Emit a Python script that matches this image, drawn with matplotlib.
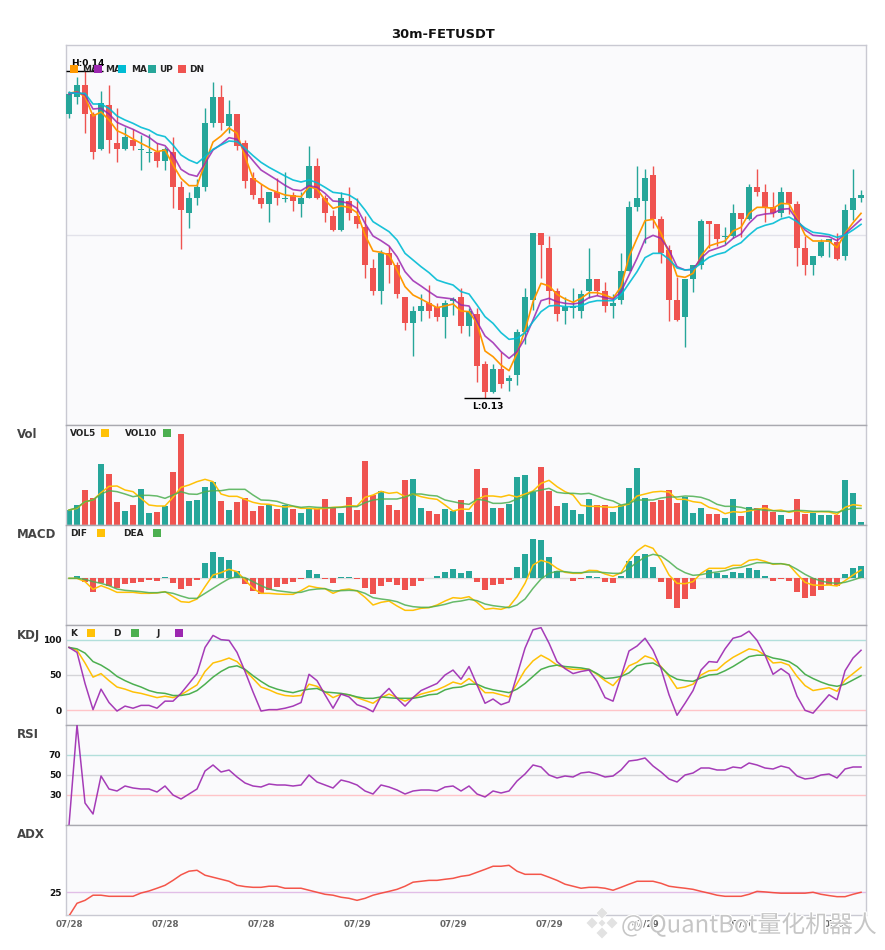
import numpy as np
import matplotlib
matplotlib.use("Agg")
import matplotlib.pyplot as plt
from matplotlib.patches import Rectangle, Polygon
import matplotlib.patheffects as pe

# 30m candles, prices in 1e-5 USDT
opens = [13852,13904,13939,13852,13747,13879,13765,13747,13774,13745,
         13736,13738,13711,13738,13633,13555,13600,13633,13825,13903,
         13816,13852,13765,13660,13600,13582,13618,13597,13609,13582,
         13600,13696,13600,13546,13504,13591,13546,13513,13390,13321,
         13435,13399,13303,13225,13261,13285,13273,13243,13291,13303,
         13216,13252,13102,13018,13087,13051,13069,13198,13294,13495,
         13450,13321,13261,13270,13261,13321,13357,13321,13276,13294,
         13381,13573,13591,13669,13537,13444,13294,13243,13357,13399,
         13531,13522,13484,13486,13555,13537,13633,13618,13573,13555,
         13618,13582,13450,13399,13426,13468,13468,13426,13564,13600]
closes = [13912,13939,13852,13739,13885,13774,13747,13783,13756,13747,
          13738,13711,13747,13633,13564,13600,13633,13825,13903,13825,
          13852,13756,13651,13609,13582,13618,13600,13600,13591,13600,
          13696,13600,13555,13504,13600,13555,13522,13399,13321,13435,
          13399,13312,13225,13261,13276,13261,13243,13285,13297,13216,
          13261,13096,13018,13087,13042,13060,13198,13303,13495,13459,
          13321,13252,13273,13276,13312,13357,13321,13276,13285,13381,
          13573,13600,13660,13537,13435,13294,13234,13357,13399,13531,
          13522,13477,13486,13555,13537,13633,13618,13573,13555,13618,
          13582,13450,13399,13426,13468,13477,13417,13564,13600,13609]
highs = [13922,13964,13981,13859,13921,13939,13870,13813,13807,13789,
         13792,13764,13754,13783,13651,13618,13657,13870,13948,13939,
         13894,13852,13774,13678,13642,13618,13660,13678,13618,13618,
         13756,13720,13609,13564,13618,13633,13600,13546,13417,13444,
         13456,13408,13303,13276,13312,13339,13285,13294,13303,13330,
         13270,13270,13111,13102,13138,13069,13207,13330,13495,13495,
         13486,13330,13303,13330,13324,13450,13357,13348,13312,13435,
         13591,13696,13687,13696,13546,13459,13363,13357,13399,13537,
         13531,13522,13513,13582,13555,13642,13687,13642,13618,13633,
         13618,13591,13486,13426,13477,13477,13495,13582,13687,13624]
lows = [13840,13882,13795,13717,13744,13736,13708,13744,13744,13684,
        13708,13693,13684,13570,13447,13510,13579,13621,13813,13804,
        13795,13744,13630,13597,13570,13528,13579,13588,13561,13543,
        13600,13597,13528,13501,13501,13534,13510,13360,13309,13282,
        13345,13300,13204,13126,13231,13240,13231,13180,13249,13195,
        13186,13048,13000,13015,13030,13021,13039,13162,13264,13360,
        13282,13231,13222,13240,13240,13300,13309,13258,13240,13282,
        13381,13561,13465,13510,13405,13231,13231,13153,13318,13387,
        13450,13456,13462,13480,13483,13534,13606,13528,13543,13543,
        13552,13396,13369,13369,13423,13423,13414,13414,13534,13588]

ma_fast = [13914,13919,13904,13846,13858,13834,13802,13791,13777,13764,
           13752,13739,13744,13699,13659,13637,13637,13704,13768,13786,
           13810,13794,13724,13659,13642,13627,13618,13609,13606,13604,
           13634,13627,13594,13569,13576,13572,13556,13489,13441,13437,
           13429,13384,13334,13309,13297,13284,13271,13276,13282,13261,
           13259,13224,13141,13124,13099,13082,13134,13204,13289,13344,
           13336,13311,13297,13287,13299,13316,13316,13309,13299,13334,
           13424,13479,13532,13536,13494,13434,13366,13362,13374,13426,
           13456,13464,13471,13501,13512,13554,13572,13572,13569,13584,
           13582,13539,13489,13471,13471,13471,13451,13494,13526,13554]
ma_mid = [13912,13918,13909,13867,13869,13852,13827,13816,13806,13794,
          13782,13764,13757,13729,13686,13671,13665,13704,13744,13761,
          13781,13776,13741,13712,13684,13669,13654,13638,13625,13622,
          13637,13632,13614,13591,13589,13584,13569,13524,13486,13472,
          13456,13424,13379,13352,13336,13319,13303,13300,13297,13279,
          13276,13229,13186,13166,13139,13119,13139,13179,13234,13292,
          13299,13289,13284,13282,13286,13301,13307,13301,13296,13319,
          13369,13419,13476,13488,13479,13444,13394,13384,13386,13419,
          13441,13449,13458,13479,13492,13524,13547,13552,13554,13566,
          13568,13534,13504,13488,13486,13484,13472,13492,13514,13536]
ma_slow = [13916,13914,13914,13882,13882,13869,13846,13834,13824,13812,
           13804,13790,13784,13759,13729,13714,13704,13724,13746,13759,
           13771,13769,13749,13727,13707,13692,13679,13666,13654,13648,
           13654,13646,13632,13617,13614,13609,13594,13564,13529,13514,
           13499,13474,13434,13414,13394,13376,13354,13346,13339,13319,
           13312,13279,13244,13224,13196,13176,13179,13196,13229,13259,
           13276,13278,13274,13274,13276,13287,13292,13292,13292,13309,
           13344,13379,13421,13434,13434,13416,13390,13384,13386,13404,
           13422,13431,13437,13454,13466,13489,13509,13518,13524,13537,
           13543,13529,13510,13497,13494,13490,13482,13489,13504,13521]

# volume, arbitrary units
volume = [45,60,105,81,183,153,69,42,60,108,36,39,57,159,273,72,75,114,129,72,
          45,69,81,42,57,60,48,60,48,36,48,48,78,54,36,84,45,192,90,102,
          60,45,135,138,51,42,33,48,42,75,39,168,111,51,51,63,144,150,99,174,
          102,57,66,45,33,78,60,60,39,60,111,171,81,69,75,105,66,84,36,51,
          33,33,21,78,27,54,51,60,39,30,18,78,33,36,30,30,30,135,96,9]
vol5 = [45,50,70,75,97,116,117,105,100,80,60,57,57,83,113,120,130,137,130,93,
        86,86,77,68,63,62,57,54,56,50,50,48,50,53,54,58,57,83,90,101,
        95,98,85,93,85,80,77,60,42,48,47,77,87,87,84,90,84,93,102,125,
        134,115,100,90,59,56,56,54,53,57,63,87,93,99,101,99,77,77,70,67,
        53,47,34,40,38,42,47,51,43,45,38,43,38,39,40,39,32,53,61,58]
vol10 = [45,52,70,75,93,103,100,93,85,89,89,87,80,90,100,93,92,100,103,103,
         107,107,107,90,75,74,71,63,57,53,55,53,52,52,53,55,55,67,75,78,
         78,78,84,93,93,89,87,75,70,65,62,77,74,65,65,68,78,87,100,105,
         110,98,95,95,93,95,87,78,72,60,65,75,75,75,81,84,84,87,86,83,
         75,62,56,56,53,47,47,44,43,41,41,44,43,41,41,41,38,45,50,50]

macd_hist = [0,7,-12,-41,-15,-23,-29,-17,-14,-11,-5,-8,4,-14,-32,-23,-5,46,79,64,
             55,22,-17,-38,-47,-35,-26,-17,-11,-2,25,13,-2,-14,4,4,-2,-29,-47,-23,
             -11,-20,-35,-23,-8,0,7,19,28,16,22,-11,-35,-20,-17,-5,34,73,118,115,
             64,22,0,-8,-2,7,4,-11,-14,7,52,67,73,34,-11,-62,-89,-62,-32,1,
             25,16,10,19,16,31,25,7,-8,-2,-8,-41,-59,-53,-35,-20,-23,13,31,37]
dif = [0,0,-10,-33,-22,-31,-42,-42,-42,-45,-45,-44,-40,-55,-70,-72,-62,-25,10,17,
       27,20,-5,-30,-45,-45,-47,-48,-48,-37,-23,-28,-31,-45,-35,-32,-38,-57,-80,-72,
       -68,-83,-96,-96,-90,-88,-80,-68,-58,-60,-55,-72,-93,-90,-93,-85,-55,-15,40,54,
       47,30,18,15,15,24,23,13,6,17,55,82,99,90,55,10,-15,-16,-10,15,
       30,30,30,39,39,54,57,51,42,44,40,13,-12,-20,-21,-20,-23,-7,10,25]
dea = [0,0,-3,-10,-15,-22,-32,-36,-38,-40,-43,-43,-41,-45,-53,-60,-60,-45,-30,-15,
       -1,5,2,-10,-22,-32,-37,-40,-43,-42,-35,-32,-31,-38,-37,-36,-37,-45,-58,-62,
       -65,-70,-80,-85,-87,-87,-83,-78,-71,-68,-63,-67,-77,-82,-85,-88,-80,-62,-30,-2,
       15,21,20,17,17,19,19,17,15,15,30,48,64,72,67,50,30,17,9,11,
       16,19,23,30,33,40,47,47,44,44,40,27,12,0,-8,-13,-15,-12,-5,3]

kdj_k = [89,85,67,47,52,42,33,30,26,24,21,18,20,18,22,29,36,55,67,70,
         74,69,57,45,33,29,24,21,20,21,37,34,26,18,23,22,18,14,10,18,
         23,18,13,18,23,26,29,34,40,37,45,36,25,25,22,19,38,57,70,78,
         72,64,60,58,58,58,51,42,35,48,63,68,77,73,62,48,31,33,37,50,
         56,57,67,75,81,87,85,78,67,68,64,48,35,28,30,32,27,43,52,61]
kdj_d = [89,87,81,69,64,57,48,42,37,33,28,25,24,21,21,23,28,37,47,55,
         61,63,58,49,41,34,30,27,25,28,30,31,26,25,24,22,19,17,17,19,
         18,17,17,17,19,22,23,29,32,33,37,37,32,29,27,25,30,38,48,58,
         62,64,62,61,60,58,52,45,46,48,53,63,66,67,61,50,44,42,41,46,
         50,51,56,62,69,76,78,78,74,72,69,62,51,45,40,36,34,37,43,49]
kdj_j = [89,82,38,1,30,11,-1,6,3,7,7,3,13,13,24,38,52,89,106,100,
         99,82,55,26,-1,1,1,3,6,11,51,42,22,3,23,19,8,4,-2,20,
         31,17,6,18,28,33,38,50,57,44,62,36,10,16,8,12,50,88,114,117,
         95,69,59,52,55,57,41,18,13,48,84,91,102,85,59,22,-7,10,28,57,
         69,68,87,102,105,112,99,78,51,59,51,20,0,-4,9,22,15,56,74,85]

rsi = [0,100,22,11,49,36,34,39,37,36,36,33,39,30,26,31,36,54,60,53,
       55,48,42,39,38,41,40,40,39,40,50,43,40,37,45,43,40,34,31,40,
       38,35,31,34,35,35,34,38,39,34,39,31,28,34,32,34,44,51,60,58,
       50,47,49,48,52,53,51,48,49,55,64,65,67,59,53,46,43,50,52,57,
       57,55,55,58,57,62,60,57,56,59,57,49,46,47,50,51,47,56,58,58]

adx = [12.1,19,20.6,23.4,23.4,22.8,22.8,22.8,22.8,24.6,25.7,27.2,28.8,31.5,34.5,36.5,37,34.3,33.2,32.1,
       31,28.8,28.1,27.7,27.7,28.3,28.3,27.2,27.2,27.2,26.1,25,23.9,23.4,22.3,21.7,20.6,21.7,23.4,24.5,
       25.5,26.6,28.3,30.5,31,31.5,31.5,32.1,32.6,33.7,34.3,35.9,37.5,39.2,39.2,39.7,36.5,34.8,34.8,34.8,
       33.2,31.5,29.4,28.3,27.2,27.7,27.7,27.2,26.1,27.7,29.4,31,31,31,29.9,28.3,27.7,27.2,26.6,25.5,
       24.5,23.4,22.8,22.8,22.8,23.9,25.5,25.2,24.8,24.5,24.5,24.5,24.5,25,23.9,23.2,22.6,22.6,23.9,25]

date_ticks = [0, 12, 24, 36, 48, 60, 72, 84, 96]
date_labels = ["07/28", "07/28", "07/28", "07/29", "07/29", "07/29", "07/29", "07/30", "07/30"]

UP = "#26A69A"
DN = "#EF5350"
YEL = "#FFC107"
GRN = "#4CAF50"
PUR = "#9C27B0"
BG = "#FAFAFC"
EDGE = "#C9C9D2"
SEP = "#A9A9B0"

W, H = 885, 950
fig = plt.figure(figsize=(W / 100, H / 100), dpi=100)
fig.patch.set_facecolor("white")


def fx(x):
    return x / W


def fy(y):
    return 1 - y / H


def panel(top, bottom, ylim):
    ax = fig.add_axes([fx(65.5), fy(bottom), (866 - 65.5) / W, (bottom - top) / H])
    ax.set_facecolor(BG)
    ax.set_xlim(-0.44, 99.62)
    ax.set_ylim(*ylim)
    ax.set_xticks([])
    ax.set_yticks([])
    for s in ["left", "right", "bottom"]:
        ax.spines[s].set_color(EDGE)
        ax.spines[s].set_linewidth(1)
    ax.spines["top"].set_color(SEP)
    ax.spines["top"].set_linewidth(1)
    return ax


def yticks(ax, vals):
    ax.set_yticks(vals)
    ax.tick_params(axis="y", length=0, pad=3, labelsize=6.5, labelcolor="#111111")
    for t in ax.get_yticklabels():
        t.set_fontweight("bold")


# legend squares and labels are placed in picture pixels
def leg_text(x, y, s):
    fig.text(fx(x), fy(y), s, fontsize=6.4, fontweight="bold", color="#222222",
             ha="left", va="center", zorder=20)


def leg_box(x, y, c):
    fig.add_artist(Rectangle((fx(x), fy(y + 4)), 8 / W, 8 / H, transform=fig.transFigure,
                             facecolor=c, edgecolor="none", zorder=21))


def panel_name(y, s):
    fig.text(fx(17), fy(y), s, fontsize=8.5, fontweight="bold", color="#444444",
             ha="left", va="center")


x = np.arange(len(closes))
o = np.array(opens) / 1e5
c = np.array(closes) / 1e5
hi = np.array(highs) / 1e5
lo = np.array(lows) / 1e5
colors = [UP if b >= a else DN for a, b in zip(opens, closes)]

# main price panel
ax = panel(45, 425, (0.12919, 0.14059))
ax.spines["top"].set_color(EDGE)
ax.axhline(0.13489, color="#E2E2EA", lw=1, zorder=1)
ax.vlines(x, lo, hi, colors=colors, lw=1.0, zorder=2)
body_low = np.minimum(o, c)
body_h = np.maximum(np.abs(c - o), 0.00002)
ax.bar(x, body_h, bottom=body_low, width=0.75, color=colors, zorder=3)
ax.plot(x, np.array(ma_fast) / 1e5, color="#FF9800", lw=1.2, zorder=4)
ax.plot(x, np.array(ma_mid) / 1e5, color=PUR, lw=1.2, alpha=0.85, zorder=4)
ax.plot(x, np.array(ma_slow) / 1e5, color="#00BCD4", lw=1.2, alpha=0.9, zorder=4)

# high and low markers
i_hi = int(np.argmax(hi))
i_lo = int(np.argmin(lo))
ax.hlines(hi[i_hi], i_hi - 2.4, i_hi + 2.2, color="black", lw=1, zorder=5)
ax.text(i_hi + 0.4, hi[i_hi] + 0.00008, "H:%.2f" % hi[i_hi], fontsize=6.5, fontweight="bold",
        ha="center", va="bottom", zorder=5)
ax.hlines(lo[i_lo], i_lo - 2.6, i_lo + 1.9, color="black", lw=1, zorder=5)
ax.text(i_lo + 0.4, lo[i_lo] - 0.00012, "L:%.2f" % lo[i_lo], fontsize=6.5, fontweight="bold",
        ha="center", va="top", zorder=5)

leg_text(82, 69, "MA")
leg_box(70, 69, "#FF9800")
leg_text(105, 69, "MA")
leg_box(94, 69, PUR)
leg_text(131, 69, "MA")
leg_box(118, 69, "#00BCD4")
leg_box(148, 69, UP)
leg_text(159, 69, "UP")
leg_box(178, 69, DN)
leg_text(189, 69, "DN")

# volume
ax = panel(425, 525, (0, 300))
ax.bar(x, volume, width=0.75, color=colors, zorder=2)
ax.plot(x, vol5, color=YEL, lw=1.1, zorder=3)
ax.plot(x, vol10, color=GRN, lw=1.1, alpha=0.85, zorder=3)
panel_name(434, "Vol")
leg_text(70, 433, "VOL5")
leg_box(101, 433, YEL)
leg_text(125, 433, "VOL10")
leg_box(163, 433, GRN)

# MACD
ax = panel(525, 625, (-140, 160))
ax.axhline(0, color="#DCDCDC", lw=1, zorder=1)
ax.bar(x, macd_hist, width=0.75, color=[UP if v >= 0 else DN for v in macd_hist], zorder=2)
ax.plot(x, dif, color=YEL, lw=1.1, zorder=3)
ax.plot(x, dea, color=GRN, lw=1.1, alpha=0.85, zorder=3)
panel_name(535, "MACD")
leg_text(70, 533, "DIF")
leg_box(97, 533, YEL)
leg_text(123, 533, "DEA")
leg_box(153, 533, GRN)

# KDJ
ax = panel(625, 725, (-20.75, 120.75))
ax.axhline(100, color="#B2DFDB", lw=1, zorder=1)
ax.axhline(50, color="#D4D4D8", lw=1, zorder=1)
ax.axhline(0, color="#FFC4C8", lw=1, zorder=1)
ax.plot(x, kdj_k, color=YEL, lw=1.1, zorder=3)
ax.plot(x, kdj_d, color=GRN, lw=1.1, zorder=3)
ax.plot(x, kdj_j, color=PUR, lw=1.1, alpha=0.9, zorder=3)
yticks(ax, [0, 50, 100])
panel_name(635, "KDJ")
leg_text(70, 633, "K")
leg_box(87, 633, YEL)
leg_text(113, 633, "D")
leg_box(131, 633, GRN)
leg_text(156, 633, "J")
leg_box(175, 633, PUR)

# RSI
ax = panel(725, 825, (0, 100))
ax.axhline(70, color="#B2DFDB", lw=1, zorder=1)
ax.axhline(50, color="#D4D4D8", lw=1, zorder=1)
ax.axhline(30, color="#FFC4C8", lw=1, zorder=1)
ax.plot(x, rsi, color=PUR, lw=1.1, alpha=0.9, zorder=3)
yticks(ax, [30, 50, 70])
panel_name(735, "RSI")

# ADX
ax = panel(825, 915, (12.6, 61.7))
ax.axhline(25, color="#E1BEE7", lw=1, zorder=1)
ax.plot(x, adx, color="#F44336", lw=1.1, alpha=0.9, zorder=3)
yticks(ax, [25])
panel_name(835, "ADX")
ax.set_xticks(date_ticks)
ax.set_xticklabels(date_labels, fontsize=6.3, fontweight="bold", color="#666666")
ax.tick_params(axis="x", length=0, pad=3)

fig.text(fx(443.5), fy(34.5), "30m-FETUSDT", fontsize=9.4, fontweight="bold",
         color="#111111", ha="center", va="center")

# watermark over the date axis
wm_fx = [pe.withStroke(linewidth=1.6, foreground="white")]
fig.text(fx(621), fy(925), "@ QuantBot量化机器人", fontsize=17.2, color="#C6C6C6",
         family=["Noto Sans CJK SC", "DejaVu Sans"], ha="left", va="center",
         zorder=30, path_effects=wm_fx)
for cx, cy, r in [(602, 913, 6), (592, 923, 6), (612, 923, 6), (602, 933, 6), (602, 923, 4)]:
    fig.add_artist(Polygon([(fx(cx - r), fy(cy)), (fx(cx), fy(cy - r)),
                            (fx(cx + r), fy(cy)), (fx(cx), fy(cy + r))],
                           closed=True, transform=fig.transFigure, facecolor="#E2E2E2",
                           edgecolor="white", lw=0.5, zorder=30))

fig.savefig("out.png", dpi=100)
